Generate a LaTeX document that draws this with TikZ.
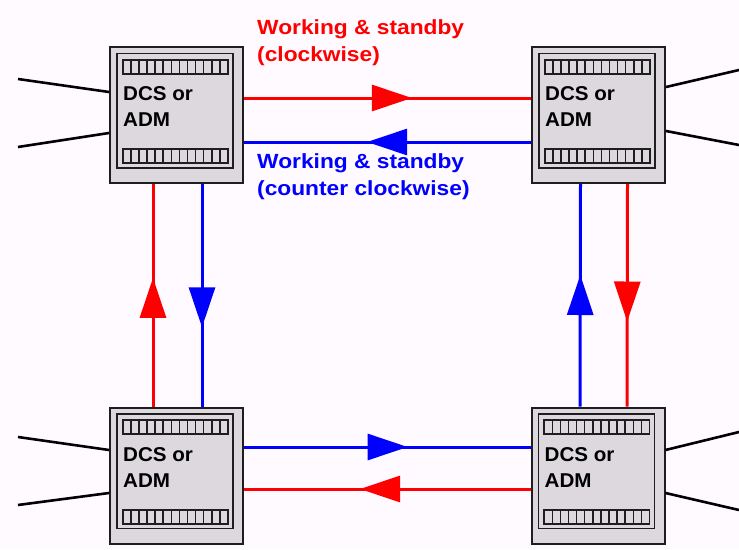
\documentclass[tikz,border=0pt]{standalone}
\usepackage{fontspec}
\setmainfont{Liberation Sans}
\newfontfamily\lblfont[FakeStretch=1.11]{Liberation Sans Bold}
\newfontfamily\admfont[FakeStretch=1.03]{Liberation Sans Bold}
\usetikzlibrary{arrows.meta,decorations.markings,calc}
\definecolor{bg}{RGB}{255,250,255}
\definecolor{boxgray}{RGB}{220,216,222}
\definecolor{edge}{RGB}{30,30,30}
\definecolor{myred}{RGB}{255,0,0}
\definecolor{myblue}{RGB}{0,0,255}
\tikzset{
  admbox/.style={draw=edge, line width=2pt, fill=boxgray, minimum width=133pt, minimum height=136pt, inner sep=0pt},
  frame/.style={draw=edge, line width=1.8pt},
  stripbox/.style={draw=edge, line width=1.8pt},
  admtext/.style={font=\admfont\fontsize{20}{26}\selectfont, align=left, inner sep=0pt, anchor=base west},
  lbl/.style={font=\lblfont\fontsize{20.5}{26.5}\selectfont, align=left, inner sep=0pt, anchor=base west},
  link/.style={line width=3pt},
  ext/.style={line width=2.6pt, black},
  tipat/.style={postaction={decorate}, decoration={markings, mark=at position #1 with {\arrow{Triangle[length=40pt,width=26pt]}}}},
  adm/.pic={
    \node[admbox] (-b) at (0,0) {};
    \draw[frame] (-59.5,-61.5) rectangle (56.5,53);
    \draw[stripbox] (-53.8,-55.3) rectangle (51.5,-41.3);
    \draw[stripbox] (-53.8,34.3) rectangle (51.5,48.3);
    \foreach \i in {1,...,12} {
      \draw[edge, line width=1.5pt] (-53.8+\i*8.1,-55.3) -- ++(0,14);
      \draw[edge, line width=1.5pt] (-53.8+\i*8.1,34.3) -- ++(0,14);
    }
    \node[admtext] (-t) at (-53.5,11.7) {DCS or\\ADM};
  }
}
\begin{document}
\begin{tikzpicture}[x=1pt,y=-1pt]
\fill[bg] (0,0) rectangle (739,549);
\useasboundingbox (0,0) rectangle (739,549);

\pic (TL) at (176.5,115) {adm};
\pic (TR) at (598.5,115) {adm};
\pic (BL) at (176.5,475.5) {adm};
\pic (BR) at (598,475.5) {adm};

% external lines
\coordinate (e1) at (18,79);
\coordinate (e2) at (18,147);
\coordinate (e3) at (739,70);
\coordinate (e4) at (739,145);
\coordinate (e5) at (18,437);
\coordinate (e6) at (18,505);
\coordinate (e7) at (739,432);
\coordinate (e8) at (739,510);
\draw[ext] (e1) -- ([yshift=23pt]TL-b.west);
\draw[ext] (e2) -- ([yshift=-18pt]TL-b.west);
\draw[ext] ([yshift=28pt]TR-b.east) -- (e3);
\draw[ext] ([yshift=-16pt]TR-b.east) -- (e4);
\draw[ext] (e5) -- ([yshift=25.5pt]BL-b.west);
\draw[ext] (e6) -- ([yshift=-17.5pt]BL-b.west);
\draw[ext] ([yshift=25.5pt]BR-b.east) -- (e7);
\draw[ext] ([yshift=-17.5pt]BR-b.east) -- (e8);

% ring connectors
\draw[link, myred, tipat=0.585] ([yshift=17pt]TL-b.east) -- ([yshift=17pt]TR-b.west);
\draw[link, myblue, tipat=0.571] ([yshift=-27pt]TR-b.west) -- ([yshift=-27pt]TL-b.east);
\draw[link, myblue, tipat=0.571] ([yshift=28.5pt]BL-b.east) -- ([yshift=28.5pt]BR-b.west);
\draw[link, myred, tipat=0.595] ([yshift=-13.5pt]BR-b.west) -- ([yshift=-13.5pt]BL-b.east);
\draw[link, myred, tipat=0.578] ([xshift=-23.5pt]BL-b.north) -- ([xshift=-23.5pt]TL-b.south);
\draw[link, myblue, tipat=0.644] ([xshift=25.5pt]TL-b.south) -- ([xshift=25.5pt]BL-b.north);
\draw[link, myblue, tipat=0.591] ([xshift=-18pt]BR-b.north) -- ([xshift=-18pt]TR-b.south);
\draw[link, myred, tipat=0.618] ([xshift=29pt]TR-b.south) -- ([xshift=29pt]BR-b.north);

% labels
\node[lbl, text=myred] (cw) at (257,61) {Working \& standby\\(clockwise)};
\node[lbl, text=myblue] (ccw) at (257,195) {Working \& standby\\(counter clockwise)};
\end{tikzpicture}
\end{document}
